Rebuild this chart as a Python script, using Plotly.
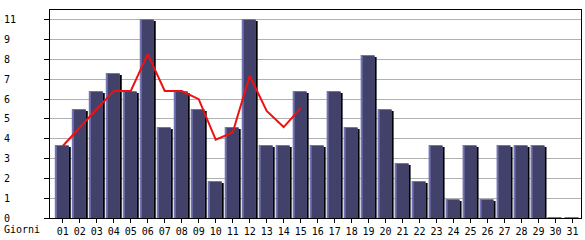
import plotly.graph_objects as go

# ---- data ----
days = list(range(1, 32))
day_labels = [f"{d:02d}" for d in days]
visits = [4, 6, 7, 8, 7, 11, 5, 7, 6, 2, 5, 11, 4, 4, 7, 4, 7, 5, 9, 6,
          3, 2, 4, 1, 4, 1, 4, 4, 4, 0, 0]
trend_days = list(range(1, 16))
trend = [4.0, 5.05, 6.05, 7.05, 7.05, 9.1, 7.05, 7.05, 6.6, 4.35, 4.75, 7.9,
         5.95, 5.05, 6.1]
y_tick_values = [0, 1.1, 2.2, 3.3, 4.4, 5.5, 6.6, 7.7, 8.8, 9.9, 11.0]
y_tick_labels = ["0", "1", "2", "3", "4", "5", "6", "7", "8", "9", "11"]
x_title = "Giorni"

# ---- style ----
W, H = 585, 240
ML, MR, MT, MB = 50, 3, 10, 20
X0, X1 = 0.247, 31.5
Y0, Y1 = 0.0, 11.55
pxx = (X1 - X0) / (W - ML - MR)
pxy = (Y1 - Y0) / (H - MT - MB)
NAVY = "#414169"
LAV = "#7474b4"
FONT = dict(family="DejaVu Sans Mono", size=10, color="#000000")

fig = go.Figure()
# shadow
fig.add_trace(go.Bar(x=days, y=[v - pxy for v in visits], offset=-6 * pxx,
                     width=14 * pxx, marker=dict(color="#000000", line=dict(width=0)),
                     hoverinfo="skip", showlegend=False))
# light edge
fig.add_trace(go.Bar(x=days, y=[v + pxy for v in visits], offset=-8 * pxx,
                     width=14 * pxx, marker=dict(color=LAV, line=dict(width=0)),
                     hoverinfo="skip", showlegend=False))
# body
fig.add_trace(go.Bar(x=days, y=visits, offset=-6 * pxx, width=12 * pxx,
                     marker=dict(color=NAVY, line=dict(width=0)),
                     showlegend=False))
# trend line
fig.add_trace(go.Scatter(x=trend_days, y=trend, mode="lines",
                         line=dict(color="#f01010", width=2), showlegend=False))

pad = max(len(t) for t in y_tick_labels)
ytext = [t + "\u00a0" * (pad - len(t)) for t in y_tick_labels]

fig.update_layout(
    width=W, height=H, margin=dict(l=ML, r=MR, t=MT, b=MB, pad=0),
    paper_bgcolor="white", plot_bgcolor="white", barmode="overlay",
    font=FONT,
    xaxis=dict(range=[X0, X1], tickvals=days, ticktext=day_labels,
               ticks="outside", ticklen=4, tickcolor="black", tickwidth=1,
               showline=True, linecolor="black", linewidth=1, mirror=True,
               showgrid=False, zeroline=False, tickfont=FONT),
    yaxis=dict(range=[Y0, Y1], tickvals=y_tick_values, ticktext=ytext,
               ticks="outside", ticklen=5, tickcolor="black", tickwidth=1,
               showline=True, linecolor="black", linewidth=1, mirror=True,
               showgrid=True, gridcolor="#b0b0b0", gridwidth=1,
               zeroline=False, tickfont=FONT, ticklabelstandoff=26),
    annotations=[dict(text=x_title, xref="paper", yref="paper",
                      x=(2 - ML) / (W - ML - MR), y=-12 / (H - MT - MB),
                      xanchor="left", yanchor="middle", showarrow=False,
                      font=FONT)],
)

fig.write_html("out.html")
